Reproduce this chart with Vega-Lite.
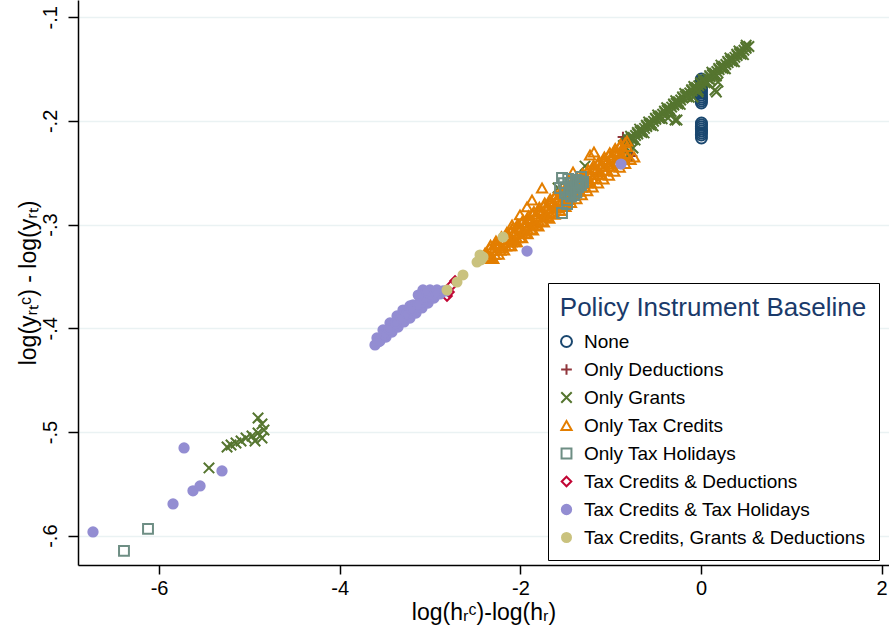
{
  "$schema": "https://vega.github.io/schema/vega-lite/v6.json",
  "width": 811,
  "height": 565,
  "autosize": {"type": "none"},
  "padding": {"left": 78, "top": 0, "right": 0, "bottom": 72},
  "background": "white",
  "config": {
    "font": "Liberation Sans",
    "view": {"stroke": null},
    "axis": {"labelFont": "Liberation Sans", "titleFont": "Liberation Sans", "labelColor": "black", "titleColor": "black", "titleFontWeight": "normal", "domainColor": "black", "tickColor": "black", "domainWidth": 1.5, "tickWidth": 1.5}
  },
  "data": {"values": [
    {"g":"None","x":0.004,"y":-0.1596},{"g":"None","x":0.006,"y":-0.1634},{"g":"None","x":0.004,"y":-0.1673},{"g":"None","x":0.005,"y":-0.1711},{"g":"None","x":0.003,"y":-0.1750},{"g":"None","x":0.005,"y":-0.1789},{"g":"None","x":0.004,"y":-0.1827},{"g":"None","x":0.005,"y":-0.2020},{"g":"None","x":0.004,"y":-0.2059},{"g":"None","x":0.006,"y":-0.2097},{"g":"None","x":0.004,"y":-0.2136},{"g":"None","x":0.005,"y":-0.2165},
    {"g":"None","x":0.005,"y":-0.1615},{"g":"None","x":0.004,"y":-0.1654},{"g":"None","x":0.005,"y":-0.1692},{"g":"None","x":0.004,"y":-0.1730},{"g":"None","x":0.005,"y":-0.1770},{"g":"None","x":0.004,"y":-0.1808},{"g":"None","x":0.005,"y":-0.2040},{"g":"None","x":0.004,"y":-0.2078},{"g":"None","x":0.005,"y":-0.2117},
    {"g":"Only Deductions","x":-0.864,"y":-0.2156},{"g":"Only Deductions","x":-0.841,"y":-0.2184},{"g":"Only Deductions","x":-0.797,"y":-0.2377},{"g":"Only Deductions","x":-0.764,"y":-0.2339},
    {"g":"Only Grants","x":-0.86,"y":-0.2238},{"g":"Only Grants","x":-0.80,"y":-0.2195},{"g":"Only Grants","x":-0.75,"y":-0.2160},{"g":"Only Grants","x":-0.70,"y":-0.2127},{"g":"Only Grants","x":-0.65,"y":-0.2090},{"g":"Only Grants","x":-0.60,"y":-0.2055},{"g":"Only Grants","x":-0.55,"y":-0.2022},{"g":"Only Grants","x":-0.50,"y":-0.1985},{"g":"Only Grants","x":-0.45,"y":-0.1952},{"g":"Only Grants","x":-0.40,"y":-0.1918},{"g":"Only Grants","x":-0.35,"y":-0.1885},{"g":"Only Grants","x":-0.30,"y":-0.1848},{"g":"Only Grants","x":-0.25,"y":-0.1815},{"g":"Only Grants","x":-0.20,"y":-0.1780},{"g":"Only Grants","x":-0.15,"y":-0.1745},{"g":"Only Grants","x":-0.10,"y":-0.1712},{"g":"Only Grants","x":-0.05,"y":-0.1678},{"g":"Only Grants","x":0.00,"y":-0.1643},{"g":"Only Grants","x":0.05,"y":-0.1610},{"g":"Only Grants","x":0.10,"y":-0.1575},{"g":"Only Grants","x":0.15,"y":-0.1540},{"g":"Only Grants","x":0.20,"y":-0.1506},{"g":"Only Grants","x":0.25,"y":-0.1472},{"g":"Only Grants","x":0.30,"y":-0.1438},{"g":"Only Grants","x":0.35,"y":-0.1403},{"g":"Only Grants","x":0.40,"y":-0.1370},{"g":"Only Grants","x":0.45,"y":-0.1335},{"g":"Only Grants","x":0.50,"y":-0.1300},{"g":"Only Grants","x":0.53,"y":-0.1282},
    {"g":"Only Grants","x":-0.825,"y":-0.2210},{"g":"Only Grants","x":-0.775,"y":-0.2172},{"g":"Only Grants","x":-0.725,"y":-0.2141},{"g":"Only Grants","x":-0.675,"y":-0.2103},{"g":"Only Grants","x":-0.625,"y":-0.2072},{"g":"Only Grants","x":-0.575,"y":-0.2035},{"g":"Only Grants","x":-0.525,"y":-0.2004},{"g":"Only Grants","x":-0.475,"y":-0.1966},{"g":"Only Grants","x":-0.425,"y":-0.1935},{"g":"Only Grants","x":-0.375,"y":-0.1898},{"g":"Only Grants","x":-0.325,"y":-0.1867},{"g":"Only Grants","x":-0.275,"y":-0.1829},{"g":"Only Grants","x":-0.225,"y":-0.1798},{"g":"Only Grants","x":-0.175,"y":-0.1761},{"g":"Only Grants","x":-0.125,"y":-0.1730},{"g":"Only Grants","x":-0.075,"y":-0.1692},{"g":"Only Grants","x":-0.025,"y":-0.1661},{"g":"Only Grants","x":0.025,"y":-0.1624},{"g":"Only Grants","x":0.075,"y":-0.1593},{"g":"Only Grants","x":0.125,"y":-0.1555},{"g":"Only Grants","x":0.175,"y":-0.1524},{"g":"Only Grants","x":0.225,"y":-0.1487},{"g":"Only Grants","x":0.275,"y":-0.1456},{"g":"Only Grants","x":0.325,"y":-0.1418},{"g":"Only Grants","x":0.375,"y":-0.1387},{"g":"Only Grants","x":0.425,"y":-0.1350},{"g":"Only Grants","x":0.475,"y":-0.1319},
    {"g":"Only Grants","x":-0.805,"y":-0.2179},{"g":"Only Grants","x":-0.705,"y":-0.2111},{"g":"Only Grants","x":-0.605,"y":-0.2042},{"g":"Only Grants","x":-0.505,"y":-0.1974},{"g":"Only Grants","x":-0.405,"y":-0.1905},{"g":"Only Grants","x":-0.305,"y":-0.1837},{"g":"Only Grants","x":-0.205,"y":-0.1768},{"g":"Only Grants","x":-0.105,"y":-0.1700},{"g":"Only Grants","x":-0.005,"y":-0.1631},{"g":"Only Grants","x":0.095,"y":-0.1563},{"g":"Only Grants","x":0.195,"y":-0.1494},{"g":"Only Grants","x":0.295,"y":-0.1426},{"g":"Only Grants","x":0.395,"y":-0.1357},{"g":"Only Grants","x":0.495,"y":-0.1289},
    {"g":"Only Grants","x":-0.855,"y":-0.2249},{"g":"Only Grants","x":-0.755,"y":-0.2180},{"g":"Only Grants","x":-0.655,"y":-0.2112},{"g":"Only Grants","x":-0.555,"y":-0.2043},{"g":"Only Grants","x":-0.455,"y":-0.1975},{"g":"Only Grants","x":-0.355,"y":-0.1906},{"g":"Only Grants","x":-0.255,"y":-0.1838},{"g":"Only Grants","x":-0.155,"y":-0.1769},{"g":"Only Grants","x":-0.055,"y":-0.1701},{"g":"Only Grants","x":0.045,"y":-0.1632},{"g":"Only Grants","x":0.145,"y":-0.1564},{"g":"Only Grants","x":0.245,"y":-0.1495},{"g":"Only Grants","x":0.345,"y":-0.1427},{"g":"Only Grants","x":0.445,"y":-0.1358},
    {"g":"Only Grants","x":-0.83,"y":-0.2256},{"g":"Only Grants","x":-0.73,"y":-0.2185},{"g":"Only Grants","x":-0.63,"y":-0.2116},{"g":"Only Grants","x":-0.53,"y":-0.2048},{"g":"Only Grants","x":-0.43,"y":-0.1979},{"g":"Only Grants","x":-0.33,"y":-0.1909},{"g":"Only Grants","x":-0.23,"y":-0.1841},{"g":"Only Grants","x":-0.13,"y":-0.1772},{"g":"Only Grants","x":-0.03,"y":-0.1704},{"g":"Only Grants","x":0.07,"y":-0.1635},{"g":"Only Grants","x":0.17,"y":-0.1567},{"g":"Only Grants","x":0.27,"y":-0.1498},{"g":"Only Grants","x":0.37,"y":-0.1430},{"g":"Only Grants","x":0.47,"y":-0.1361},
    {"g":"Only Grants","x":-0.78,"y":-0.2148},{"g":"Only Grants","x":-0.68,"y":-0.2079},{"g":"Only Grants","x":-0.58,"y":-0.2010},{"g":"Only Grants","x":-0.48,"y":-0.1942},{"g":"Only Grants","x":-0.38,"y":-0.1873},{"g":"Only Grants","x":-0.28,"y":-0.1805},{"g":"Only Grants","x":-0.18,"y":-0.1736},{"g":"Only Grants","x":-0.08,"y":-0.1668},{"g":"Only Grants","x":0.02,"y":-0.1599},{"g":"Only Grants","x":0.12,"y":-0.1530},{"g":"Only Grants","x":0.22,"y":-0.1462},{"g":"Only Grants","x":0.32,"y":-0.1393},{"g":"Only Grants","x":0.42,"y":-0.1325},{"g":"Only Grants","x":0.50,"y":-0.1270},
    {"g":"Only Grants","x":-0.266,"y":-0.1991},{"g":"Only Grants","x":-0.365,"y":-0.1972},{"g":"Only Grants","x":-0.288,"y":-0.1991},{"g":"Only Grants","x":-0.089,"y":-0.1770},{"g":"Only Grants","x":-0.033,"y":-0.1722},{"g":"Only Grants","x":0.155,"y":-0.1702},{"g":"Only Grants","x":0.188,"y":-0.1625},{"g":"Only Grants","x":0.10,"y":-0.1606},{"g":"Only Grants","x":0.17,"y":-0.1722},
    {"g":"Only Grants","x":-0.808,"y":-0.2329},{"g":"Only Grants","x":-0.753,"y":-0.2261},{"g":"Only Grants","x":-1.284,"y":-0.2436},{"g":"Only Grants","x":-1.583,"y":-0.2647},
    {"g":"Only Grants","x":-4.904,"y":-0.4865},{"g":"Only Grants","x":-4.860,"y":-0.4923},{"g":"Only Grants","x":-4.838,"y":-0.4981},{"g":"Only Grants","x":-4.904,"y":-0.5010},{"g":"Only Grants","x":-4.860,"y":-0.5058},{"g":"Only Grants","x":-4.971,"y":-0.5039},{"g":"Only Grants","x":-5.037,"y":-0.5058},{"g":"Only Grants","x":-5.092,"y":-0.5087},{"g":"Only Grants","x":-5.148,"y":-0.5106},{"g":"Only Grants","x":-5.203,"y":-0.5126},{"g":"Only Grants","x":-5.247,"y":-0.5145},{"g":"Only Grants","x":-4.937,"y":-0.5087},{"g":"Only Grants","x":-5.447,"y":-0.5347},
    {"g":"Only Tax Credits","x":-2.42,"y":-0.3329},{"g":"Only Tax Credits","x":-2.36,"y":-0.3288},{"g":"Only Tax Credits","x":-2.30,"y":-0.3248},{"g":"Only Tax Credits","x":-2.24,"y":-0.3207},{"g":"Only Tax Credits","x":-2.18,"y":-0.3167},{"g":"Only Tax Credits","x":-2.12,"y":-0.3126},{"g":"Only Tax Credits","x":-2.06,"y":-0.3086},{"g":"Only Tax Credits","x":-2.00,"y":-0.3045},{"g":"Only Tax Credits","x":-1.94,"y":-0.3004},{"g":"Only Tax Credits","x":-1.88,"y":-0.2964},{"g":"Only Tax Credits","x":-1.82,"y":-0.2923},{"g":"Only Tax Credits","x":-1.76,"y":-0.2883},{"g":"Only Tax Credits","x":-1.70,"y":-0.2842},{"g":"Only Tax Credits","x":-1.64,"y":-0.2802},{"g":"Only Tax Credits","x":-1.58,"y":-0.2761},{"g":"Only Tax Credits","x":-1.52,"y":-0.2721},{"g":"Only Tax Credits","x":-1.46,"y":-0.2680},{"g":"Only Tax Credits","x":-1.40,"y":-0.2639},{"g":"Only Tax Credits","x":-1.34,"y":-0.2599},{"g":"Only Tax Credits","x":-1.28,"y":-0.2558},{"g":"Only Tax Credits","x":-1.22,"y":-0.2518},{"g":"Only Tax Credits","x":-1.16,"y":-0.2477},{"g":"Only Tax Credits","x":-1.10,"y":-0.2437},{"g":"Only Tax Credits","x":-1.04,"y":-0.2396},{"g":"Only Tax Credits","x":-0.98,"y":-0.2355},{"g":"Only Tax Credits","x":-0.92,"y":-0.2315},{"g":"Only Tax Credits","x":-0.86,"y":-0.2274},{"g":"Only Tax Credits","x":-0.82,"y":-0.2247},
    {"g":"Only Tax Credits","x":-2.28,"y":-0.3289},{"g":"Only Tax Credits","x":-2.22,"y":-0.3249},{"g":"Only Tax Credits","x":-2.16,"y":-0.3208},{"g":"Only Tax Credits","x":-2.10,"y":-0.3168},{"g":"Only Tax Credits","x":-2.04,"y":-0.3127},{"g":"Only Tax Credits","x":-1.98,"y":-0.3086},{"g":"Only Tax Credits","x":-1.92,"y":-0.3046},{"g":"Only Tax Credits","x":-1.86,"y":-0.3005},{"g":"Only Tax Credits","x":-1.80,"y":-0.2965},{"g":"Only Tax Credits","x":-1.74,"y":-0.2924},{"g":"Only Tax Credits","x":-1.68,"y":-0.2884},{"g":"Only Tax Credits","x":-1.62,"y":-0.2843},{"g":"Only Tax Credits","x":-1.56,"y":-0.2803},{"g":"Only Tax Credits","x":-1.50,"y":-0.2762},{"g":"Only Tax Credits","x":-1.44,"y":-0.2721},{"g":"Only Tax Credits","x":-1.38,"y":-0.2681},{"g":"Only Tax Credits","x":-1.32,"y":-0.2640},{"g":"Only Tax Credits","x":-1.26,"y":-0.2600},{"g":"Only Tax Credits","x":-1.20,"y":-0.2559},{"g":"Only Tax Credits","x":-1.14,"y":-0.2519},{"g":"Only Tax Credits","x":-1.08,"y":-0.2478},{"g":"Only Tax Credits","x":-1.02,"y":-0.2438},{"g":"Only Tax Credits","x":-0.96,"y":-0.2397},{"g":"Only Tax Credits","x":-0.90,"y":-0.2356},{"g":"Only Tax Credits","x":-0.84,"y":-0.2316},
    {"g":"Only Tax Credits","x":-2.10,"y":-0.3204},{"g":"Only Tax Credits","x":-2.04,"y":-0.3166},{"g":"Only Tax Credits","x":-1.98,"y":-0.3128},{"g":"Only Tax Credits","x":-1.92,"y":-0.3090},{"g":"Only Tax Credits","x":-1.86,"y":-0.3053},{"g":"Only Tax Credits","x":-1.80,"y":-0.3015},{"g":"Only Tax Credits","x":-1.74,"y":-0.2977},{"g":"Only Tax Credits","x":-1.68,"y":-0.2939},{"g":"Only Tax Credits","x":-1.62,"y":-0.2902},{"g":"Only Tax Credits","x":-1.56,"y":-0.2864},{"g":"Only Tax Credits","x":-1.50,"y":-0.2826},{"g":"Only Tax Credits","x":-1.44,"y":-0.2789},{"g":"Only Tax Credits","x":-1.38,"y":-0.2751},{"g":"Only Tax Credits","x":-1.32,"y":-0.2713},{"g":"Only Tax Credits","x":-1.26,"y":-0.2675},{"g":"Only Tax Credits","x":-1.20,"y":-0.2638},{"g":"Only Tax Credits","x":-1.14,"y":-0.2600},{"g":"Only Tax Credits","x":-1.08,"y":-0.2562},{"g":"Only Tax Credits","x":-1.02,"y":-0.2525},{"g":"Only Tax Credits","x":-0.96,"y":-0.2487},{"g":"Only Tax Credits","x":-0.90,"y":-0.2449},{"g":"Only Tax Credits","x":-0.84,"y":-0.2411},{"g":"Only Tax Credits","x":-0.78,"y":-0.2373},{"g":"Only Tax Credits","x":-0.74,"y":-0.2348},
    {"g":"Only Tax Credits","x":-2.34,"y":-0.3225},{"g":"Only Tax Credits","x":-2.28,"y":-0.3184},{"g":"Only Tax Credits","x":-2.22,"y":-0.3144},{"g":"Only Tax Credits","x":-2.16,"y":-0.3103},{"g":"Only Tax Credits","x":-2.10,"y":-0.3063},{"g":"Only Tax Credits","x":-2.04,"y":-0.3022},{"g":"Only Tax Credits","x":-1.98,"y":-0.2981},{"g":"Only Tax Credits","x":-1.92,"y":-0.2941},{"g":"Only Tax Credits","x":-1.86,"y":-0.2900},{"g":"Only Tax Credits","x":-1.80,"y":-0.2860},{"g":"Only Tax Credits","x":-1.74,"y":-0.2819},{"g":"Only Tax Credits","x":-1.68,"y":-0.2779},{"g":"Only Tax Credits","x":-1.62,"y":-0.2738},{"g":"Only Tax Credits","x":-1.56,"y":-0.2698},{"g":"Only Tax Credits","x":-1.50,"y":-0.2657},{"g":"Only Tax Credits","x":-1.44,"y":-0.2616},{"g":"Only Tax Credits","x":-1.38,"y":-0.2576},{"g":"Only Tax Credits","x":-1.32,"y":-0.2535},{"g":"Only Tax Credits","x":-1.26,"y":-0.2495},{"g":"Only Tax Credits","x":-1.20,"y":-0.2454},{"g":"Only Tax Credits","x":-1.14,"y":-0.2414},{"g":"Only Tax Credits","x":-1.08,"y":-0.2373},{"g":"Only Tax Credits","x":-1.02,"y":-0.2333},{"g":"Only Tax Credits","x":-0.96,"y":-0.2292},{"g":"Only Tax Credits","x":-0.90,"y":-0.2251},{"g":"Only Tax Credits","x":-0.84,"y":-0.2211},
    {"g":"Only Tax Credits","x":-2.39,"y":-0.3274},{"g":"Only Tax Credits","x":-2.27,"y":-0.3193},{"g":"Only Tax Credits","x":-2.15,"y":-0.3111},{"g":"Only Tax Credits","x":-2.03,"y":-0.3030},{"g":"Only Tax Credits","x":-1.91,"y":-0.2949},{"g":"Only Tax Credits","x":-1.79,"y":-0.2868},{"g":"Only Tax Credits","x":-1.67,"y":-0.2787},{"g":"Only Tax Credits","x":-1.55,"y":-0.2706},{"g":"Only Tax Credits","x":-1.43,"y":-0.2625},{"g":"Only Tax Credits","x":-1.31,"y":-0.2544},{"g":"Only Tax Credits","x":-1.19,"y":-0.2462},{"g":"Only Tax Credits","x":-1.07,"y":-0.2381},{"g":"Only Tax Credits","x":-0.95,"y":-0.2300},
    {"g":"Only Tax Credits","x":-2.33,"y":-0.3308},{"g":"Only Tax Credits","x":-2.21,"y":-0.3227},{"g":"Only Tax Credits","x":-2.09,"y":-0.3146},{"g":"Only Tax Credits","x":-1.97,"y":-0.3065},{"g":"Only Tax Credits","x":-1.85,"y":-0.2984},{"g":"Only Tax Credits","x":-1.73,"y":-0.2902},{"g":"Only Tax Credits","x":-1.61,"y":-0.2821},{"g":"Only Tax Credits","x":-1.49,"y":-0.2740},{"g":"Only Tax Credits","x":-1.37,"y":-0.2659},{"g":"Only Tax Credits","x":-1.25,"y":-0.2578},{"g":"Only Tax Credits","x":-1.13,"y":-0.2497},{"g":"Only Tax Credits","x":-1.01,"y":-0.2416},{"g":"Only Tax Credits","x":-0.89,"y":-0.2335},
    {"g":"Only Tax Credits","x":-2.27,"y":-0.3158},{"g":"Only Tax Credits","x":-2.15,"y":-0.3076},{"g":"Only Tax Credits","x":-2.03,"y":-0.2995},{"g":"Only Tax Credits","x":-1.91,"y":-0.2914},{"g":"Only Tax Credits","x":-1.79,"y":-0.2833},{"g":"Only Tax Credits","x":-1.67,"y":-0.2752},{"g":"Only Tax Credits","x":-1.55,"y":-0.2671},{"g":"Only Tax Credits","x":-1.43,"y":-0.2590},{"g":"Only Tax Credits","x":-1.31,"y":-0.2509},{"g":"Only Tax Credits","x":-1.19,"y":-0.2427},{"g":"Only Tax Credits","x":-1.07,"y":-0.2346},{"g":"Only Tax Credits","x":-0.95,"y":-0.2265},
    {"g":"Only Tax Credits","x":-2.24,"y":-0.3287},{"g":"Only Tax Credits","x":-2.12,"y":-0.3206},{"g":"Only Tax Credits","x":-2.00,"y":-0.3125},{"g":"Only Tax Credits","x":-1.88,"y":-0.3044},{"g":"Only Tax Credits","x":-1.76,"y":-0.2963},{"g":"Only Tax Credits","x":-1.64,"y":-0.2882},{"g":"Only Tax Credits","x":-1.52,"y":-0.2801},{"g":"Only Tax Credits","x":-1.40,"y":-0.2719},{"g":"Only Tax Credits","x":-1.28,"y":-0.2638},{"g":"Only Tax Credits","x":-1.16,"y":-0.2557},{"g":"Only Tax Credits","x":-1.04,"y":-0.2476},{"g":"Only Tax Credits","x":-0.92,"y":-0.2395},
    {"g":"Only Tax Credits","x":-2.33,"y":-0.3198},{"g":"Only Tax Credits","x":-2.21,"y":-0.3117},{"g":"Only Tax Credits","x":-2.09,"y":-0.3036},{"g":"Only Tax Credits","x":-1.97,"y":-0.2955},{"g":"Only Tax Credits","x":-1.85,"y":-0.2874},{"g":"Only Tax Credits","x":-1.73,"y":-0.2792},{"g":"Only Tax Credits","x":-1.61,"y":-0.2711},{"g":"Only Tax Credits","x":-1.49,"y":-0.2630},{"g":"Only Tax Credits","x":-1.37,"y":-0.2549},{"g":"Only Tax Credits","x":-1.25,"y":-0.2468},{"g":"Only Tax Credits","x":-1.13,"y":-0.2387},{"g":"Only Tax Credits","x":-1.01,"y":-0.2306},{"g":"Only Tax Credits","x":-0.89,"y":-0.2225},
    {"g":"Only Tax Credits","x":-2.30,"y":-0.3328},{"g":"Only Tax Credits","x":-2.18,"y":-0.3247},{"g":"Only Tax Credits","x":-2.06,"y":-0.3166},{"g":"Only Tax Credits","x":-1.94,"y":-0.3084},{"g":"Only Tax Credits","x":-1.82,"y":-0.3003},{"g":"Only Tax Credits","x":-1.70,"y":-0.2922},{"g":"Only Tax Credits","x":-1.58,"y":-0.2841},{"g":"Only Tax Credits","x":-1.46,"y":-0.2760},{"g":"Only Tax Credits","x":-1.34,"y":-0.2679},{"g":"Only Tax Credits","x":-1.22,"y":-0.2598},{"g":"Only Tax Credits","x":-1.10,"y":-0.2517},{"g":"Only Tax Credits","x":-0.98,"y":-0.2435},{"g":"Only Tax Credits","x":-0.86,"y":-0.2354},
    {"g":"Only Tax Credits","x":-2.092,"y":-0.3003},{"g":"Only Tax Credits","x":-2.004,"y":-0.2907},{"g":"Only Tax Credits","x":-1.926,"y":-0.2830},{"g":"Only Tax Credits","x":-1.871,"y":-0.2763},{"g":"Only Tax Credits","x":-1.760,"y":-0.2647},{"g":"Only Tax Credits","x":-1.417,"y":-0.2493},{"g":"Only Tax Credits","x":-1.229,"y":-0.2329},{"g":"Only Tax Credits","x":-1.185,"y":-0.2300},{"g":"Only Tax Credits","x":-0.819,"y":-0.2194},
    {"g":"Only Tax Holidays","x":-1.539,"y":-0.2551},{"g":"Only Tax Holidays","x":-1.450,"y":-0.2599},{"g":"Only Tax Holidays","x":-1.384,"y":-0.2570},{"g":"Only Tax Holidays","x":-1.328,"y":-0.2541},{"g":"Only Tax Holidays","x":-1.362,"y":-0.2637},{"g":"Only Tax Holidays","x":-1.450,"y":-0.2666},{"g":"Only Tax Holidays","x":-1.506,"y":-0.2695},{"g":"Only Tax Holidays","x":-1.406,"y":-0.2715},{"g":"Only Tax Holidays","x":-1.483,"y":-0.2763},{"g":"Only Tax Holidays","x":-1.483,"y":-0.2801},{"g":"Only Tax Holidays","x":-1.539,"y":-0.2888},{"g":"Only Tax Holidays","x":-1.428,"y":-0.2647},{"g":"Only Tax Holidays","x":-1.306,"y":-0.2589},{"g":"Only Tax Holidays","x":-1.561,"y":-0.2647},{"g":"Only Tax Holidays","x":-1.470,"y":-0.2560},{"g":"Only Tax Holidays","x":-1.350,"y":-0.2610},
    {"g":"Only Tax Holidays","x":-1.52,"y":-0.2600},{"g":"Only Tax Holidays","x":-1.40,"y":-0.2680},{"g":"Only Tax Holidays","x":-1.44,"y":-0.2730},{"g":"Only Tax Holidays","x":-1.36,"y":-0.2580},{"g":"Only Tax Holidays","x":-1.33,"y":-0.2620},{"g":"Only Tax Holidays","x":-1.50,"y":-0.2640},{"g":"Only Tax Holidays","x":-1.46,"y":-0.2700},{"g":"Only Tax Holidays","x":-1.38,"y":-0.2690},
    {"g":"Only Tax Holidays","x":-6.122,"y":-0.5935},{"g":"Only Tax Holidays","x":-6.388,"y":-0.6147},
    {"g":"Tax Credits & Deductions","x":-2.757,"y":-0.3582},{"g":"Tax Credits & Deductions","x":-2.790,"y":-0.3650},{"g":"Tax Credits & Deductions","x":-2.723,"y":-0.3544},{"g":"Tax Credits & Deductions","x":-2.812,"y":-0.3688},
    {"g":"Tax Credits & Tax Holidays","x":-6.731,"y":-0.5964},{"g":"Tax Credits & Tax Holidays","x":-5.723,"y":-0.5154},{"g":"Tax Credits & Tax Holidays","x":-5.845,"y":-0.5694},{"g":"Tax Credits & Tax Holidays","x":-5.624,"y":-0.5568},{"g":"Tax Credits & Tax Holidays","x":-5.546,"y":-0.5520},{"g":"Tax Credits & Tax Holidays","x":-5.303,"y":-0.5376},
    {"g":"Tax Credits & Tax Holidays","x":-1.926,"y":-0.3255},{"g":"Tax Credits & Tax Holidays","x":-0.886,"y":-0.2416},
    {"g":"Tax Credits & Tax Holidays","x":-3.609,"y":-0.4161},{"g":"Tax Credits & Tax Holidays","x":-3.554,"y":-0.4123},{"g":"Tax Credits & Tax Holidays","x":-3.487,"y":-0.4084},{"g":"Tax Credits & Tax Holidays","x":-3.421,"y":-0.4036},{"g":"Tax Credits & Tax Holidays","x":-3.354,"y":-0.3988},{"g":"Tax Credits & Tax Holidays","x":-3.288,"y":-0.3939},{"g":"Tax Credits & Tax Holidays","x":-3.222,"y":-0.3901},{"g":"Tax Credits & Tax Holidays","x":-3.155,"y":-0.3853},{"g":"Tax Credits & Tax Holidays","x":-3.089,"y":-0.3804},{"g":"Tax Credits & Tax Holidays","x":-3.022,"y":-0.3756},{"g":"Tax Credits & Tax Holidays","x":-2.956,"y":-0.3708},{"g":"Tax Credits & Tax Holidays","x":-2.889,"y":-0.3669},{"g":"Tax Credits & Tax Holidays","x":-2.823,"y":-0.3640},
    {"g":"Tax Credits & Tax Holidays","x":-3.587,"y":-0.4094},{"g":"Tax Credits & Tax Holidays","x":-3.520,"y":-0.4016},{"g":"Tax Credits & Tax Holidays","x":-3.443,"y":-0.3949},{"g":"Tax Credits & Tax Holidays","x":-3.365,"y":-0.3881},{"g":"Tax Credits & Tax Holidays","x":-3.299,"y":-0.3824},{"g":"Tax Credits & Tax Holidays","x":-3.222,"y":-0.3785},{"g":"Tax Credits & Tax Holidays","x":-3.188,"y":-0.3775},{"g":"Tax Credits & Tax Holidays","x":-3.078,"y":-0.3631},{"g":"Tax Credits & Tax Holidays","x":-3.000,"y":-0.3631},{"g":"Tax Credits & Tax Holidays","x":-2.923,"y":-0.3631},{"g":"Tax Credits & Tax Holidays","x":-2.856,"y":-0.3640},{"g":"Tax Credits & Tax Holidays","x":-3.111,"y":-0.3698},{"g":"Tax Credits & Tax Holidays","x":-3.022,"y":-0.3669},
    {"g":"Tax Credits & Tax Holidays","x":-3.570,"y":-0.4130},{"g":"Tax Credits & Tax Holidays","x":-3.500,"y":-0.4060},{"g":"Tax Credits & Tax Holidays","x":-3.450,"y":-0.4010},{"g":"Tax Credits & Tax Holidays","x":-3.380,"y":-0.3950},{"g":"Tax Credits & Tax Holidays","x":-3.320,"y":-0.3900},{"g":"Tax Credits & Tax Holidays","x":-3.260,"y":-0.3860},{"g":"Tax Credits & Tax Holidays","x":-3.200,"y":-0.3820},{"g":"Tax Credits & Tax Holidays","x":-3.130,"y":-0.3770},{"g":"Tax Credits & Tax Holidays","x":-3.060,"y":-0.3720},{"g":"Tax Credits & Tax Holidays","x":-2.990,"y":-0.3690},{"g":"Tax Credits & Tax Holidays","x":-2.930,"y":-0.3665},{"g":"Tax Credits & Tax Holidays","x":-3.050,"y":-0.3650},{"g":"Tax Credits & Tax Holidays","x":-3.130,"y":-0.3680},
    {"g":"Tax Credits, Grants & Deductions","x":-2.812,"y":-0.3631},{"g":"Tax Credits, Grants & Deductions","x":-2.701,"y":-0.3554},{"g":"Tax Credits, Grants & Deductions","x":-2.635,"y":-0.3486},{"g":"Tax Credits, Grants & Deductions","x":-2.480,"y":-0.3361},{"g":"Tax Credits, Grants & Deductions","x":-2.413,"y":-0.3313},{"g":"Tax Credits, Grants & Deductions","x":-2.447,"y":-0.3293},{"g":"Tax Credits, Grants & Deductions","x":-2.436,"y":-0.3341},{"g":"Tax Credits, Grants & Deductions","x":-2.192,"y":-0.3120}
  ]},
  "mark": {"type": "point", "filled": true, "opacity": 1, "strokeWidth": 2},
  "encoding": {
    "x": {"field": "x", "type": "quantitative", "scale": {"domain": [-6.897, 2.081], "nice": false, "zero": false},
      "axis": {"title": "log(hᵣᶜ)-log(hᵣ)", "values": [-6, -4, -2, 0, 2], "grid": false, "labelExpr": "replace(format(datum.value, 'd'), '−', '-')", "labelFontSize": 20, "titleFontSize": 23, "tickSize": 9, "labelPadding": 4, "titlePadding": 3}},
    "y": {"field": "y", "type": "quantitative", "scale": {"domain": [-0.6283, -0.0834], "nice": false, "zero": false},
      "axis": {"title": "log(yᵣₜᶜ)  -  log(yᵣₜ)", "values": [-0.6, -0.5, -0.4, -0.3, -0.2, -0.1], "labelExpr": "replace(replace(format(datum.value, '.1f'), '0.', '.'), '−', '-')", "labelAngle": -90, "grid": true, "gridColor": "#eaf2f3", "gridWidth": 1.5, "labelFontSize": 20, "titleFontSize": 23, "tickSize": 10, "labelPadding": 8, "titlePadding": 0}},
    "shape": {"field": "g", "type": "nominal", "scale": {"domain": ["None", "Only Deductions", "Only Grants", "Only Tax Credits", "Only Tax Holidays", "Tax Credits & Deductions", "Tax Credits & Tax Holidays", "Tax Credits, Grants & Deductions"], "range": ["circle", "M-1,0H1M0,-1V1", "M-1,-1L1,1M-1,1L1,-1", "triangle-up", "square", "diamond", "circle", "circle"]},
      "legend": {"orient": "none", "legendX": 470, "legendY": 283, "title": "Policy Instrument Baseline", "titleFontSize": 26, "titleLimit": 1000, "titleAnchor": "middle", "titleColor": "#1a3a6a", "titleFont": "Liberation Sans", "titleFontWeight": "normal", "titlePadding": 11, "labelFontSize": 19, "labelFont": "Liberation Sans", "labelColor": "black", "labelOffset": 8, "symbolOffset": -5, "strokeColor": "black", "fillColor": "white", "padding": 12, "rowPadding": 8, "symbolStrokeWidth": 2, "labelLimit": 1000}},
    "stroke": {"field": "g", "type": "nominal", "scale": {"domain": ["None", "Only Deductions", "Only Grants", "Only Tax Credits", "Only Tax Holidays", "Tax Credits & Deductions", "Tax Credits & Tax Holidays", "Tax Credits, Grants & Deductions"], "range": ["#1a476f", "#90353b", "#55752f", "#e37e00", "#6e8e84", "#c10534", "#938dd2", "#cac27e"]}},
    "fill": {"field": "g", "type": "nominal", "scale": {"domain": ["None", "Only Deductions", "Only Grants", "Only Tax Credits", "Only Tax Holidays", "Tax Credits & Deductions", "Tax Credits & Tax Holidays", "Tax Credits, Grants & Deductions"], "range": ["transparent", "transparent", "transparent", "transparent", "transparent", "transparent", "#938dd2", "#cac27e"]}},
    "size": {"field": "g", "type": "nominal", "scale": {"domain": ["None", "Only Deductions", "Only Grants", "Only Tax Credits", "Only Tax Holidays", "Tax Credits & Deductions", "Tax Credits & Tax Holidays", "Tax Credits, Grants & Deductions"], "range": [120, 81, 81, 210, 130, 170, 210, 210]}}
  }
}
